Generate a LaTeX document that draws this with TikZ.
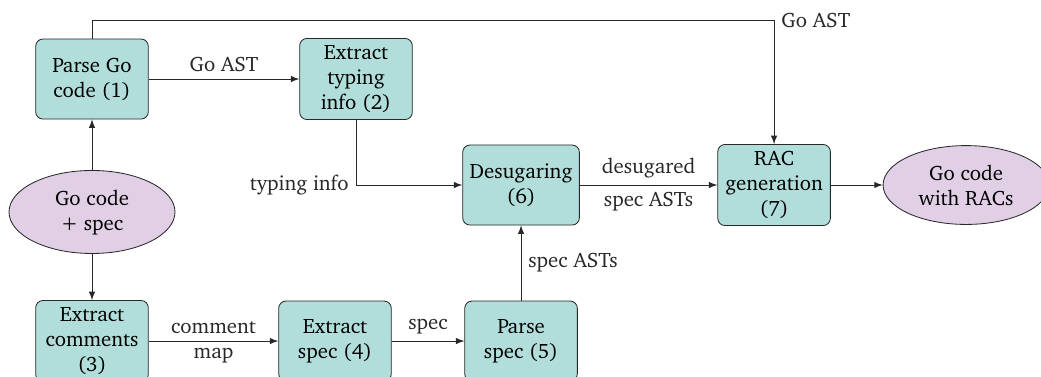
\documentclass[tikz,border=0pt]{standalone}
\usepackage[T1]{fontenc}
\usepackage{charter}
\usepackage{tikz}
\usetikzlibrary{arrows,shapes.geometric}
\definecolor{cProc}{RGB}{177,222,218}
\definecolor{cData}{RGB}{225,207,230}
\definecolor{cLine}{RGB}{40,40,40}

\begin{document}
\begin{tikzpicture}[font=\normalsize,
    proc/.style={draw=cLine,fill=cProc,rounded corners=3.5pt,align=center,
      minimum width=1.9cm,minimum height=1.35cm},
    data/.style={draw=cLine,fill=cData,ellipse,align=center,
      minimum width=2.8cm,minimum height=1.33cm},
    flow/.style={-latex,cLine}]
  \useasboundingbox (0,0) rectangle (17.56,6.343);
  % inputs and passes
  \node[data] (src)   at (1.552,2.767)  {Go code\\+ spec};
  \node[proc] (parse) at (1.552,5.010)  {Parse Go\\code (1)};
  \node[proc] (types) at (6.005,5.010)  {Extract\\typing\\info (2)};
  \node[proc] (cmts)  at (1.552,0.590)  {Extract\\comments\\(3)};
  \node[proc] (xspec) at (5.651,0.590)  {Extract\\spec (4)};
  \node[proc] (pspec) at (8.789,0.590)  {Parse\\spec (5)};
  \node[proc] (desug) at (8.789,3.222)  {Desugaring\\(6)};
  \node[proc] (rac)   at (13.057,3.222) {RAC\\generation\\(7)};
  \node[data] (out)   at (16.296,3.222) {Go code\\with RACs};
  \coordinate (top) at (parse.north |- 0,6.0);
  \coordinate (ttop) at (rac.north |- 0,6.0);
  \coordinate (tbend) at (types.south |- desug.west);
  % connectors
  \draw[flow] (src) -- (parse);
  \draw[flow] (src) -- (cmts);
  \draw[flow] (parse) -- (types) node[midway,above] {Go AST};
  \draw[flow] (parse.north) -- (top) -- (ttop) node[right] {Go AST} -- (rac.north);
  \draw[flow] (types.south) -- (tbend) node[left] {typing info} -- (desug.west);
  \draw[flow] (cmts) -- (xspec) node[midway,above] {comment}
    node[midway,below] {map};
  \draw[flow] (xspec) -- (pspec) node[midway,above] {spec};
  \draw[flow] (pspec) -- (desug) node[midway,right] {spec ASTs};
  \draw[flow] (desug) -- (rac) node[midway,above] {desugared}
    node[midway,below] {spec ASTs};
  \draw[flow] (rac) -- (out);
\end{tikzpicture}
\end{document}
